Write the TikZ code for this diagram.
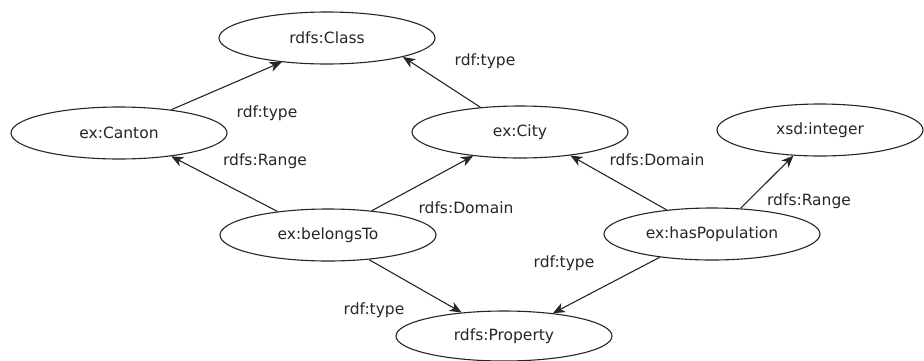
\documentclass[tikz,border=0pt]{standalone}
\usepackage{fontspec}
\setmainfont{DejaVu Sans}
\usetikzlibrary{shapes.geometric,arrows.meta}
\definecolor{ink}{HTML}{262626}
\tikzset{
  res/.style={ellipse,draw=ink,line width=1.1pt,inner sep=0pt,
    minimum width=216pt,minimum height=52pt,text=ink,
    font=\fontsize{15.5}{18}\selectfont},
  lbl/.style={text=ink,inner sep=0pt,font=\fontsize{15.5}{18}\selectfont},
  rel/.style={draw=ink,line width=1.1pt,-{Stealth[length=12pt,width=10pt,inset=3.5pt]}}
}
\begin{document}
\begin{tikzpicture}[x=1pt,y=-1pt]
\useasboundingbox (0,0) rectangle (924,360);
\fill[white] (0,0) rectangle (924,360);
\node[res] (class) at (327,38) {rdfs:Class};
\node[res] (canton) at (119,133) {ex:Canton};
\node[res] (city) at (520,132) {ex:City};
\node[res,minimum width=206pt] (int) at (820,130) {xsd:integer};
\node[res] (belongs) at (328,235) {ex:belongsTo};
\node[res] (pop) at (712,234) {ex:hasPopulation};
\node[res,minimum height=50pt] (prop) at (504,336) {rdfs:Property};

\draw[rel] (canton.24) -- (class.208);
\draw[rel] (city.148) -- (class.-14);
\draw[rel] (belongs.155) -- (canton.-24);
\draw[rel] (belongs.29) -- (city.207);
\draw[rel] (pop.152) -- (city.-25);
\draw[rel] (pop.42) -- (int.224);
\draw[rel] (belongs.-31) -- (prop.151);
\draw[rel] (pop.204) -- (prop.25);

\node[lbl] (l1) at (267,113) {rdf:type};
\node[lbl] (l2) at (485,61) {rdf:type};
\node[lbl] (l3) at (265,161) {rdfs:Range};
\node[lbl] (l4) at (466,208) {rdfs:Domain};
\node[lbl] (l5) at (657,160) {rdfs:Domain};
\node[lbl] (l6) at (809,201) {rdfs:Range};
\node[lbl] (l7) at (564,263) {rdf:type};
\node[lbl] (l8) at (374,310) {rdf:type};
\end{tikzpicture}
\end{document}
